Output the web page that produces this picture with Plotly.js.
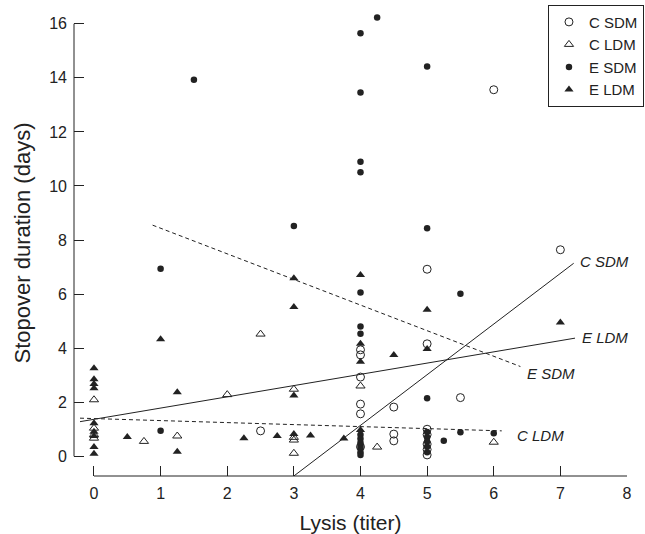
<!DOCTYPE html>
<html>
<head>
<meta charset="utf-8">
<script src="https://cdn.plot.ly/plotly-3.0.1.min.js"></script>
<style>html,body{margin:0;padding:0;background:#fff;}#chart{width:645px;height:534px;}</style>
</head>
<body>
<div id="chart"></div>
<script>
// C SDM (open circles)
const cSdmX = [2.5, 4, 4, 4, 4, 4, 4, 4.5, 4.5, 4.5, 5, 5, 5, 5, 5, 5, 5, 5.5, 6, 7];
const cSdmY = [0.94, 3.94, 3.75, 2.93, 1.93, 1.57, 0.35, 1.82, 0.82, 0.57, 6.92, 4.16, 1.0, 0.8, 0.45, 0.25, 0.05, 2.17, 13.56, 7.64];
// C LDM (open triangles)
const cLdmX = [0, 0, 0, 0, 0.75, 1.25, 2, 2.5, 3, 3, 3, 3, 4, 4.25, 6];
const cLdmY = [2.09, 1.04, 0.8, 0.67, 0.55, 0.75, 2.28, 4.52, 2.48, 0.7, 0.6, 0.11, 2.60, 0.34, 0.52];
// E SDM (filled circles)
const eSdmX = [1, 1, 1.5, 3, 4, 4, 4, 4, 4, 4, 4, 4, 4, 4, 4, 4, 4, 4, 4.25, 5, 5, 5, 5, 5, 5, 5, 5, 5.25, 5.5, 5.5, 6];
const eSdmY = [6.94, 0.94, 13.93, 8.52, 15.65, 13.46, 10.90, 10.51, 6.06, 4.80, 4.53, 0.8, 0.65, 0.5, 0.4, 0.3, 0.15, 0.05, 16.23, 14.42, 8.44, 2.15, 0.9, 0.7, 0.55, 0.35, 0.15, 0.57, 6.01, 0.89, 0.85];
// E LDM (filled triangles)
const eLdmX = [0, 0, 0, 0, 0, 0, 0, 0, 0, 0.5, 1, 1.25, 1.25, 2.25, 2.75, 3, 3, 3, 3, 3.25, 3.75, 4, 4, 4, 4, 4.5, 5, 5, 7];
const eLdmY = [3.26, 2.85, 2.67, 2.52, 1.22, 0.91, 0.75, 0.34, 0.09, 0.71, 4.33, 2.37, 0.17, 0.67, 0.75, 6.59, 5.52, 2.25, 0.82, 0.77, 0.66, 6.71, 4.16, 3.50, 0.97, 3.75, 5.42, 3.97, 4.95];

// regression lines (end points)
const fitCSdmX = [3, 7.2],      fitCSdmY = [-0.73, 7.14];
const fitELdmX = [-0.21, 7.22], fitELdmY = [1.28, 4.37];
const fitCLdmX = [-0.21, 6.12], fitCLdmY = [1.41, 0.94];
const fitESdmX = [0.88, 6.4],   fitESdmY = [8.55, 3.32];

const xTicks = [0, 1, 2, 3, 4, 5, 6, 7, 8];
const yTicks = [0, 2, 4, 6, 8, 10, 12, 14, 16];

const INK = '#222';
const FONT = 'Liberation Sans, Arial, Helvetica, sans-serif';

function pts(name, x, y, symbol, size, open) {
  return {
    type: 'scatter', mode: 'markers', name: name, x: x, y: y,
    marker: {
      symbol: symbol, size: size, color: INK,
      line: {color: INK, width: open ? 1 : 0}
    },
    cliponaxis: false
  };
}
function fit(x, y, dash) {
  return {type: 'scatter', mode: 'lines', x: x, y: y, showlegend: false,
    line: {color: INK, width: 1, dash: dash}, hoverinfo: 'skip'};
}

const data = [
  fit(fitCSdmX, fitCSdmY, 'solid'),
  fit(fitELdmX, fitELdmY, 'solid'),
  fit(fitCLdmX, fitCLdmY, '4px,3px'),
  fit(fitESdmX, fitESdmY, '4px,3px'),
  pts('C SDM', cSdmX, cSdmY, 'circle-open', 8, true),
  pts('C LDM', cLdmX, cLdmY, 'triangle-up-open', 8, true),
  pts('E SDM', eSdmX, eSdmY, 'circle', 6.5, false),
  pts('E LDM', eLdmX, eLdmY, 'triangle-up', 8, false)
];

const lbl = (t, x, y) => ({text: '<i>' + t + '</i>', x: x, y: y, xref: 'x', yref: 'y',
  xanchor: 'left', yanchor: 'middle', showarrow: false,
  font: {family: FONT, size: 15, color: INK}});

const layout = {
  width: 645, height: 534,
  margin: {l: 74, r: 18, t: 10, b: 58, autoexpand: false},
  paper_bgcolor: '#fff', plot_bgcolor: '#fff',
  font: {family: FONT, color: INK},
  showlegend: true,
  legend: {
    x: 1.0307, y: 1.0115, xanchor: 'right', yanchor: 'top',
    bgcolor: '#fff', bordercolor: INK, borderwidth: 1,
    font: {family: FONT, size: 15, color: INK},
    itemwidth: 30, tracegroupgap: 0
  },
  xaxis: {
    range: [-0.3, 8], tickvals: xTicks, ticktext: xTicks.map(String),
    ticks: 'inside', ticklen: 10, tickwidth: 1, tickcolor: INK,
    showgrid: false, zeroline: false, showline: false,
    tickfont: {family: FONT, size: 16, color: INK},
    ticklabelstandoff: 6,
    title: {text: 'Lysis (titer)', font: {family: FONT, size: 21, color: INK}}
  },
  yaxis: {
    range: [-0.73, 16.51], tickvals: yTicks, ticktext: yTicks.map(String),
    ticks: 'inside', ticklen: 10, tickwidth: 1, tickcolor: INK,
    showgrid: false, zeroline: false, showline: false,
    tickfont: {family: FONT, size: 16, color: INK},
    ticklabelstandoff: 6,
    title: {text: 'Stopover duration (days)', font: {family: FONT, size: 22, color: INK}, standoff: 12}
  },
  shapes: [
    {type: 'line', xref: 'x', yref: 'paper', x0: xTicks[0], x1: xTicks[xTicks.length - 1], y0: 0, y1: 0, line: {color: INK, width: 1}},
    {type: 'line', xref: 'paper', yref: 'y', x0: 0, x1: 0, y0: yTicks[0], y1: yTicks[yTicks.length - 1], line: {color: INK, width: 1}}
  ],
  annotations: [
    lbl('C SDM', 7.27, 7.19),
    lbl('E LDM', 7.30, 4.39),
    lbl('E SDM', 6.47, 3.05),
    lbl('C LDM', 6.32, 0.77)
  ]
};

Plotly.newPlot('chart', data, layout, {displayModeBar: false, staticPlot: true});
</script>
</body>
</html>
